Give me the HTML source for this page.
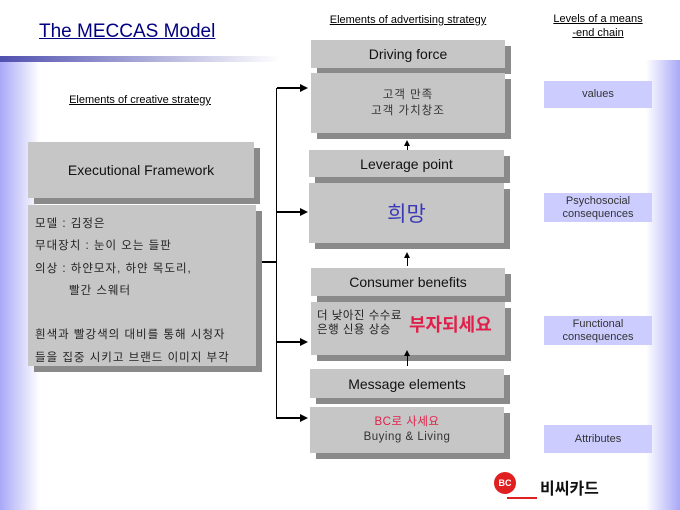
<!DOCTYPE html>
<html><head><meta charset="utf-8"><style>
body{margin:0}
#c{position:relative;width:680px;height:510px;background:#fff;overflow:hidden;font-family:"Liberation Sans","Noto Sans CJK KR",sans-serif}
.a{position:absolute}
.b{position:absolute;background:#c6c6c6;box-shadow:6px 6px 0 #8a8a8a;text-align:center;color:#111}
.r{position:absolute;background:#ccccff;text-align:center;font-size:11px;color:#333;line-height:13px;display:flex;align-items:center;justify-content:center}
.h{font-size:14px;display:flex;align-items:center;justify-content:center}
.l{position:absolute;background:#000}
.ar{position:absolute;width:0;height:0;border-top:4px solid transparent;border-bottom:4px solid transparent;border-left:8px solid #000}
.au{position:absolute;width:0;height:0;border-left:3px solid transparent;border-right:3px solid transparent;border-bottom:6px solid #000}
.u{text-decoration:underline;font-size:11px;text-align:center;color:#000}
.k{letter-spacing:1px;font-size:11.5px}
</style></head><body><div id="c">
<div class="a" style="left:0;top:62px;width:40px;height:448px;background:linear-gradient(90deg,#a8a8f8,#fff)"></div>
<div class="a" style="left:0;top:56px;width:280px;height:6px;background:linear-gradient(90deg,#5050b0,#fff)"></div>
<div class="a" style="left:646px;top:60px;width:34px;height:450px;background:linear-gradient(90deg,#fff,#a8a8f8)"></div>
<div class="a" style="left:39px;top:21px;font-size:19px;color:#000080;text-decoration:underline">The MECCAS Model</div>
<div class="a u" style="left:30px;top:94px;width:220px">Elements of creative strategy</div>
<div class="a u" style="left:300px;top:14px;width:216px">Elements of advertising strategy</div>
<div class="a u" style="left:530px;top:12px;width:136px;line-height:14px">Levels of a means<br>-end chain</div>

<div class="b h" style="left:28px;top:142px;width:226px;height:56px;font-size:14px">Executional Framework</div>
<div class="b k" style="left:28px;top:205px;width:228px;height:161px;text-align:left;color:#222">
<div class="a" style="left:7px;top:10px">모델 : 김정은</div>
<div class="a" style="left:7px;top:32px">무대장치 : 눈이 오는 들판</div>
<div class="a" style="left:7px;top:55px">의상 : 하얀모자, 하얀 목도리,</div>
<div class="a" style="left:41px;top:77px">빨간 스웨터</div>
<div class="a" style="left:7px;top:121px">흰색과 빨강색의 대비를 통해 시청자</div>
<div class="a" style="left:7px;top:144px">들을 집중 시키고 브랜드 이미지 부각</div>
</div>

<div class="l" style="left:262px;top:261px;width:15px;height:2px"></div>
<div class="l" style="left:276px;top:88px;width:1px;height:331px"></div>
<div class="l" style="left:277px;top:87px;width:24px;height:2px"></div><div class="ar" style="left:300px;top:84px"></div>
<div class="l" style="left:277px;top:211px;width:24px;height:2px"></div><div class="ar" style="left:300px;top:208px"></div>
<div class="l" style="left:277px;top:341px;width:24px;height:2px"></div><div class="ar" style="left:300px;top:338px"></div>
<div class="l" style="left:277px;top:417px;width:24px;height:2px"></div><div class="ar" style="left:300px;top:414px"></div>

<div class="b h" style="left:311px;top:40px;width:194px;height:28px">Driving force</div>
<div class="b k" style="left:311px;top:73px;width:194px;height:60px;line-height:16px;display:flex;align-items:center;justify-content:center;color:#333">고객 만족<br>고객 가치창조</div>
<div class="l" style="left:407px;top:144px;width:1px;height:6px"></div><div class="au" style="left:404px;top:140px"></div>
<div class="b h" style="left:309px;top:150px;width:195px;height:27px">Leverage point</div>
<div class="b h" style="left:309px;top:183px;width:195px;height:60px;font-size:21px;color:#3a3ab8">희망</div>
<div class="l" style="left:407px;top:256px;width:1px;height:10px"></div><div class="au" style="left:404px;top:252px"></div>
<div class="b h" style="left:311px;top:268px;width:194px;height:28px">Consumer benefits</div>
<div class="b" style="left:311px;top:302px;width:194px;height:53px">
<div class="a" style="left:6px;top:7px;font-size:11.5px;line-height:14px;text-align:left;color:#222;letter-spacing:0.5px">더 낮아진 수수료<br>은행 신용 상승</div>
<div class="a" style="left:98px;top:9px;font-size:18px;font-weight:bold;color:#e0204a">부자되세요</div></div>
<div class="l" style="left:407px;top:354px;width:1px;height:12px"></div><div class="au" style="left:404px;top:350px"></div>
<div class="b h" style="left:310px;top:369px;width:194px;height:29px">Message elements</div>
<div class="b" style="left:310px;top:407px;width:194px;height:46px;font-size:11.5px;line-height:15px;display:flex;flex-direction:column;align-items:center;justify-content:center;color:#333;letter-spacing:0.5px"><span style="color:#e0204a">BC로 사세요</span><span>Buying &amp; Living</span></div>

<div class="r" style="left:544px;top:81px;width:108px;height:27px">values</div>
<div class="r" style="left:544px;top:193px;width:108px;height:29px">Psychosocial<br>consequences</div>
<div class="r" style="left:544px;top:316px;width:108px;height:29px">Functional<br>consequences</div>
<div class="r" style="left:544px;top:425px;width:108px;height:28px">Attributes</div>

<div class="a" style="left:494px;top:472px;width:22px;height:22px;border-radius:50%;background:#e02020;color:#fff;font-size:9px;font-weight:bold;text-align:center;line-height:22px">BC</div>
<div class="a" style="left:507px;top:497px;width:30px;height:2px;background:#e02020"></div>
<div class="a" style="left:540px;top:475px;font-size:16px;font-weight:bold;color:#111">비씨카드</div>
</div></body></html>
